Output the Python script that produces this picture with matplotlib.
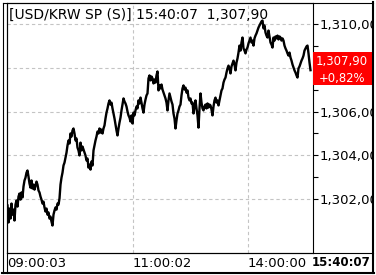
import matplotlib
matplotlib.use('Agg')
import matplotlib.pyplot as plt
from matplotlib.patches import Rectangle
from matplotlib.lines import Line2D
from matplotlib.ticker import FixedLocator, FuncFormatter

# ── DATA ───────────────────────────────────────────────
symbol = '[USD/KRW SP (S)]'
last_time = '15:40:07'
last_price = 1307.90
change_pct = 0.82

# tick-by-tick prices
prices = [
    1301.68, 1300.90, 1301.54, 1301.08, 1301.77, 1301.26, 1301.49, 1300.99, 1301.72, 1301.91,
    1301.63, 1302.09, 1302.23, 1301.95, 1302.28, 1302.05, 1302.55, 1302.83, 1302.96, 1303.19,
    1303.29, 1303.01, 1302.69, 1302.50, 1302.83, 1302.46, 1302.64, 1302.41, 1302.60, 1302.78,
    1302.64, 1302.37, 1302.28, 1302.09, 1301.95, 1301.77, 1301.86, 1301.59, 1301.40, 1301.54,
    1301.26, 1301.36, 1301.08, 1301.17, 1300.94, 1300.76, 1301.26, 1301.45, 1301.59, 1301.49,
    1301.77, 1301.72, 1302.00, 1302.64, 1302.96, 1303.19, 1303.52, 1303.65, 1303.88, 1304.11,
    1304.44, 1304.67, 1304.53, 1304.99, 1304.85, 1305.13, 1305.22, 1304.99, 1304.67, 1304.76,
    1304.34, 1304.21, 1303.98, 1304.57, 1304.21, 1304.39, 1304.25, 1304.11, 1303.98, 1303.75,
    1303.84, 1303.42, 1303.56, 1303.33, 1303.70, 1303.52, 1304.21, 1304.44, 1304.67, 1304.85,
    1305.08, 1304.99, 1305.22, 1305.03, 1305.17, 1304.99, 1305.22, 1305.36, 1305.68, 1305.95,
    1306.14, 1306.37, 1306.51, 1306.32, 1306.41, 1306.14, 1305.91, 1305.68, 1305.40, 1305.13,
    1304.90, 1305.22, 1305.49, 1305.72, 1306.05, 1306.32, 1306.60, 1306.46, 1306.37, 1306.23,
    1306.00, 1305.82, 1305.72, 1305.54, 1305.82, 1305.45, 1305.95, 1305.82, 1306.05, 1306.23,
    1306.14, 1306.51, 1306.37, 1306.64, 1306.41, 1306.14, 1305.95, 1306.32, 1306.55, 1306.74,
    1306.83, 1307.52, 1307.66, 1307.43, 1307.61, 1307.52, 1307.29, 1307.47, 1307.33, 1307.66,
    1307.84, 1306.97, 1307.20, 1307.06, 1307.24, 1307.01, 1306.87, 1306.74, 1306.60, 1306.41,
    1306.05, 1306.51, 1306.83, 1306.64, 1306.46, 1306.32, 1305.91, 1305.68, 1305.22, 1305.59,
    1305.91, 1306.05, 1306.23, 1306.32, 1306.74, 1307.06, 1307.20, 1307.01, 1307.10, 1306.87,
    1306.97, 1306.64, 1306.51, 1306.60, 1306.37, 1306.41, 1305.91, 1306.23, 1306.51, 1306.14,
    1305.82, 1305.26, 1306.14, 1306.83, 1306.41, 1306.14, 1306.05, 1306.23, 1306.32, 1306.14,
    1306.37, 1306.18, 1306.32, 1306.28, 1306.09, 1305.82, 1306.23, 1306.51, 1306.64, 1306.41,
    1306.51, 1306.28, 1306.51, 1306.74, 1306.97, 1307.06, 1307.33, 1307.47, 1307.56, 1307.79,
    1307.98, 1308.11, 1307.98, 1307.75, 1308.07, 1308.21, 1308.34, 1308.16, 1307.89, 1308.25,
    1308.44, 1308.71, 1309.03, 1308.80, 1309.17, 1309.40, 1308.90, 1308.80, 1308.67, 1308.85,
    1308.94, 1309.13, 1309.26, 1309.40, 1309.17, 1309.26, 1309.03, 1309.36, 1309.49, 1309.59,
    1309.72, 1309.86, 1309.95, 1310.05, 1310.14, 1310.18, 1309.82, 1309.95, 1309.63, 1309.49,
    1309.40, 1309.72, 1309.45, 1309.17, 1309.08, 1308.94, 1309.40, 1309.26, 1309.45, 1309.36,
    1309.49, 1309.31, 1309.45, 1309.40, 1309.26, 1309.36, 1309.26, 1309.03, 1308.90, 1308.80,
    1308.67, 1308.57, 1308.71, 1308.48, 1308.34, 1308.16, 1308.02, 1307.89, 1307.79, 1307.66,
    1307.56, 1307.98, 1308.07, 1308.21, 1308.34, 1308.44, 1308.57, 1308.80, 1308.90, 1308.99,
    1309.03, 1308.67, 1308.25, 1307.90,
]
ticks = list(range(len(prices)))

# price levels on the right axis
price_levels = [1302, 1304, 1306, 1308, 1310]
minor_levels = [1303, 1305, 1307, 1309]

# time labels and the tick index where each one sits
time_labels = ['09:00:03', '11:00:02', '14:00:00']
time_idx = [0, 125, 240]


def krw(v):
    # korean terminal style: comma for thousands and decimals
    return f'{v:,.2f}'.replace('.', ',')


def axis_label(v, pos):
    # the level hidden under the last-price box gets no label
    if abs(v - last_price) < 1:
        return ''
    return krw(v)


# ── FIGURE ─────────────────────────────────────────────
W, H = 376, 275
fig = plt.figure(figsize=(W / 100, H / 100), dpi=100)


def fx(px):
    return px / W


def fy(py):
    return 1 - py / H


ax = fig.add_axes([fx(6.5), fy(252.5), (312.5 - 6.5) / W, (252.5 - 2.5) / H])
ax.plot(ticks, prices, color='black', lw=1.7)
ax.set_xlim(-1, 305)
ax.set_ylim(1299.52, 1311.01)

# price axis on the right
ax.yaxis.tick_right()
ax.yaxis.set_major_locator(FixedLocator(price_levels))
ax.yaxis.set_minor_locator(FixedLocator(minor_levels))
ax.yaxis.set_major_formatter(FuncFormatter(axis_label))
ax.tick_params(axis='y', which='both', direction='out', length=3.5, width=0.8,
               pad=1.5, labelsize=9.5, colors='black')

# time axis below
ax.set_xticks(time_idx)
ax.set_xticklabels(time_labels, ha='left', fontsize=9.5)
ax.tick_params(axis='x', length=0, pad=3)

ax.grid(True, which='major', color='#c4c4c4', ls=(0, (3, 2.5)), lw=0.8)
ax.get_xgridlines()[0].set_visible(False)
for s in ax.spines.values():
    s.set_linewidth(0.8)

# header text
fig.text(fx(9), fy(15), f'{symbol} {last_time}  {krw(last_price)}',
         fontsize=10, va='center', ha='left')

# last price box
fig.add_artist(Rectangle((fx(312.5), fy(85)), 61 / W, 33 / H, transform=fig.transFigure,
                         fc='#ff0000', ec='none', zorder=3))
fig.text(fx(342), fy(61), krw(last_price), color='white', fontsize=8.4,
         ha='center', va='center', zorder=4)
fig.text(fx(342), fy(78.5), f'+{change_pct:.2f}%'.replace('.', ','), color='white',
         fontsize=8.4, ha='center', va='center', zorder=4)

# last time, bold in the bottom row
fig.text(fx(312), fy(262), last_time, fontsize=8.5, fontweight='bold',
         ha='left', va='center')

# white mask right of the frame, then the frame lines
fig.add_artist(Rectangle((fx(372), 0), 4 / W, 1, transform=fig.transFigure,
                         fc='white', ec='none', zorder=5))
frame = [
    ((2.5, 2.5), (373, 2.5), 0.8),
    ((2.5, 2.5), (2.5, 273), 0.8),
    ((373, 2), (373, 273), 1.5),
    ((2, 272.5), (374, 272.5), 1.5),
    ((6.5, 2.5), (6.5, 272.5), 0.8),
    ((6.5, 252.5), (373, 252.5), 0.8),
]
for (x0, y0), (x1, y1), lw in frame:
    fig.add_artist(Line2D([fx(x0), fx(x1)], [fy(y0), fy(y1)], transform=fig.transFigure,
                          color='black', lw=lw, zorder=6))

plt.savefig('out.png', dpi=100)
